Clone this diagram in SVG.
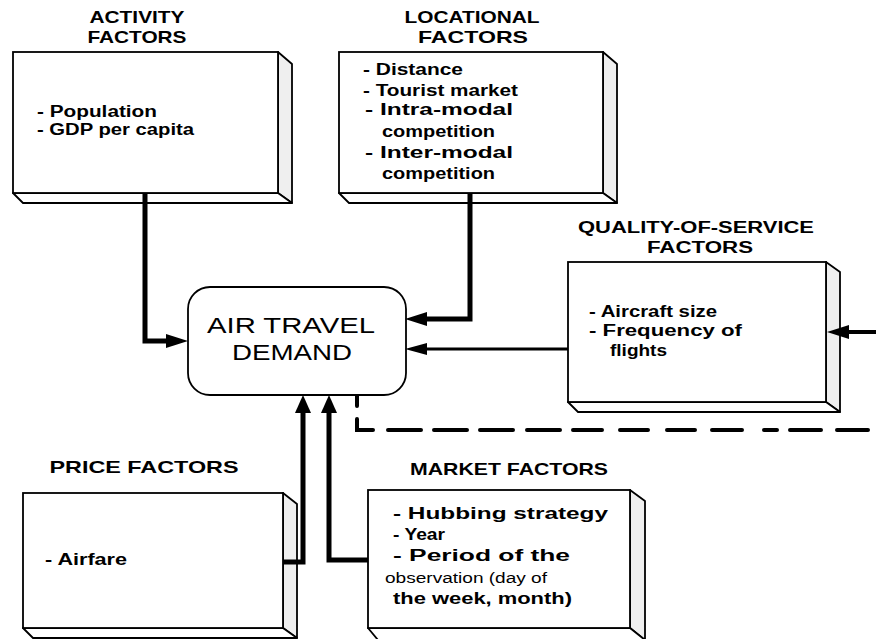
<svg xmlns="http://www.w3.org/2000/svg" width="876" height="639" viewBox="0 0 876 639">
<style>
.face{fill:#fff;stroke:#000;stroke-width:1.8}
.side{fill:#efefef;stroke:#000;stroke-width:1.8;stroke-linejoin:round}
.h{font-family:"Liberation Sans",Arial,sans-serif;font-weight:bold;font-size:17px;fill:#000}
.t{font-family:"Liberation Sans",Arial,sans-serif;font-weight:bold;font-size:16px;fill:#000}
.o{font-family:"Liberation Sans",Arial,sans-serif;font-size:14px;fill:#000}
.m{font-family:"Liberation Sans",Arial,sans-serif;font-size:22px;fill:#000}
.c{fill:none;stroke:#000;stroke-linejoin:miter}
.d{fill:none;stroke:#000;stroke-width:4;stroke-linecap:round}
</style>
<defs>
<marker id="ah" markerUnits="userSpaceOnUse" markerWidth="22" markerHeight="14" refX="10" refY="7" orient="auto"><path d="M0,0 L22,7 L0,14 z" fill="#000"/></marker>
<marker id="ahu" markerUnits="userSpaceOnUse" markerWidth="18" markerHeight="16" refX="6" refY="8" orient="auto"><path d="M0,0 L18,8 L0,16 z" fill="#000"/></marker>
<marker id="ahs" markerUnits="userSpaceOnUse" markerWidth="22" markerHeight="12" refX="10" refY="6" orient="auto"><path d="M0,0 L22,6 L0,12 z" fill="#000"/></marker>
</defs>
<rect width="876" height="639" fill="#fff"/>

<g id="activity">
<polygon class="side" points="278,52 292,64 292,203 278,193"/>
<polygon class="side" points="13,193 278,193 292,203 23,203" style="fill:#fff"/>
<rect class="face" x="13" y="52" width="265" height="141"/>
<text class="h" x="137" y="23" text-anchor="middle" textLength="95" lengthAdjust="spacingAndGlyphs">ACTIVITY</text>
<text class="h" x="137" y="43" text-anchor="middle" textLength="99" lengthAdjust="spacingAndGlyphs">FACTORS</text>
<text class="t" x="37" y="117" textLength="120" lengthAdjust="spacingAndGlyphs">- Population</text>
<text class="t" x="37" y="135" textLength="157" lengthAdjust="spacingAndGlyphs">- GDP per capita</text>
</g>

<g id="locational">
<polygon class="side" points="603,52 617,64 617,203 603,193"/>
<polygon class="side" points="339,193 603,193 617,203 349,203" style="fill:#fff"/>
<rect class="face" x="339" y="52" width="264" height="141"/>
<text class="h" x="472" y="23" text-anchor="middle" textLength="135" lengthAdjust="spacingAndGlyphs">LOCATIONAL</text>
<text class="h" x="473" y="43" text-anchor="middle" textLength="110" lengthAdjust="spacingAndGlyphs">FACTORS</text>
<text class="t" x="363" y="75" textLength="100" lengthAdjust="spacingAndGlyphs">- Distance</text>
<text class="t" x="363" y="96" textLength="155" lengthAdjust="spacingAndGlyphs">- Tourist market</text>
<text class="t" x="365" y="115" textLength="148" lengthAdjust="spacingAndGlyphs">- Intra-modal</text>
<text class="t" x="382" y="137" textLength="113" lengthAdjust="spacingAndGlyphs">competition</text>
<text class="t" x="365" y="158" textLength="148" lengthAdjust="spacingAndGlyphs">- Inter-modal</text>
<text class="t" x="382" y="179" textLength="113" lengthAdjust="spacingAndGlyphs">competition</text>
</g>

<g id="quality">
<polygon class="side" points="826,262 840,272 840,412 826,402"/>
<polygon class="side" points="568,402 826,402 840,412 578,412" style="fill:#fff"/>
<rect class="face" x="568" y="262" width="258" height="140"/>
<text class="h" x="696" y="233" text-anchor="middle" textLength="236" lengthAdjust="spacingAndGlyphs" style="font-size:16px">QUALITY-OF-SERVICE</text>
<text class="h" x="700" y="253" text-anchor="middle" textLength="106" lengthAdjust="spacingAndGlyphs" style="font-size:16px">FACTORS</text>
<text class="t" x="589" y="317" textLength="128" lengthAdjust="spacingAndGlyphs">- Aircraft size</text>
<text class="t" x="589" y="336" textLength="153" lengthAdjust="spacingAndGlyphs">- Frequency  of</text>
<text class="t" x="610" y="356" textLength="57" lengthAdjust="spacingAndGlyphs">flights</text>
</g>

<g id="demand">
<rect class="face" x="188" y="287" width="218" height="108" rx="22" ry="22"/>
<text class="m" x="291" y="333" text-anchor="middle" textLength="168" lengthAdjust="spacingAndGlyphs">AIR TRAVEL</text>
<text class="m" x="292" y="360" text-anchor="middle" textLength="120" lengthAdjust="spacingAndGlyphs">DEMAND</text>
</g>

<g id="price">
<polygon class="side" points="283,493 297,504 297,638 283,628"/>
<polygon class="side" points="23,628 283,628 297,638 33,638" style="fill:#fff"/>
<rect class="face" x="23" y="493" width="260" height="135"/>
<text class="h" x="144" y="473" text-anchor="middle" textLength="189" lengthAdjust="spacingAndGlyphs">PRICE FACTORS</text>
<text class="t" x="45" y="565" textLength="82" lengthAdjust="spacingAndGlyphs">- Airfare</text>
</g>

<g id="market">
<polygon class="side" points="630,490 645,501 645,640 630,628"/>
<polygon class="side" points="368,628 630,628 645,640 378,640" style="fill:#fff"/>
<rect class="face" x="368" y="490" width="262" height="138"/>
<text class="h" x="509" y="475" text-anchor="middle" textLength="198" lengthAdjust="spacingAndGlyphs">MARKET FACTORS</text>
<text class="t" x="393" y="519" textLength="215" lengthAdjust="spacingAndGlyphs">- Hubbing strategy</text>
<text class="t" x="393" y="540" textLength="52" lengthAdjust="spacingAndGlyphs">- Year</text>
<text class="t" x="393" y="561" textLength="177" lengthAdjust="spacingAndGlyphs">- Period of the</text>
<text class="o" x="385" y="583" textLength="162" lengthAdjust="spacingAndGlyphs">observation (day of</text>
<text class="t" x="393" y="604" textLength="179" lengthAdjust="spacingAndGlyphs">the week, month)</text>
</g>

<g id="connectors">
<path class="c" stroke-width="5" d="M145,193 V341 H176" marker-end="url(#ah)"/>
<path class="c" stroke-width="5" d="M470,193 V319 H417" marker-end="url(#ah)"/>
<path class="c" stroke-width="3" d="M568,349 H417" marker-end="url(#ahs)"/>
<path class="c" stroke-width="4" d="M876,332 H839" marker-end="url(#ah)"/>
<path class="c" stroke-width="5" d="M283,562 H303 V407" marker-end="url(#ahu)"/>
<path class="c" stroke-width="5" d="M368,560 H329 V407" marker-end="url(#ahu)"/>
<path class="d" d="M357,396 V406 M357,419 V430 H373 M388,430 H421 M434,430 H467 M480,430 H513 M527,430 H560 M573,430 H602 M620,430 H648 M667,430 H695 M712,430 H742 M764,430 H777 M790,430 H821 M837,430 H868"/>
</g>
</svg>
